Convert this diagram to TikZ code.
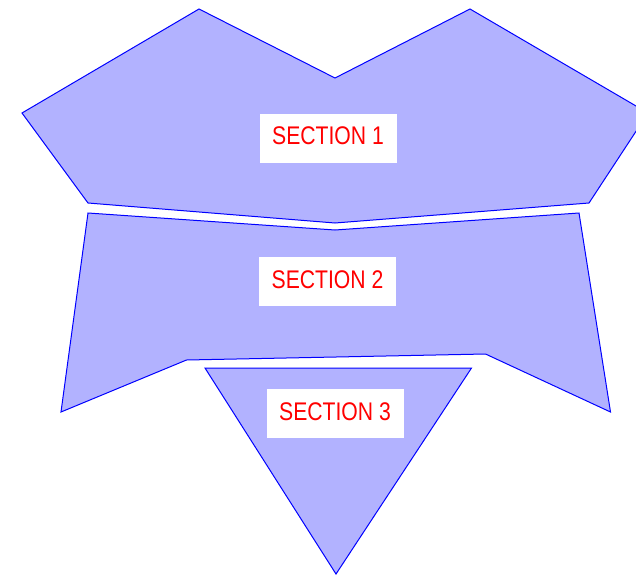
\documentclass[tikz,border=0pt]{standalone}
\usepackage{fontspec}
\setmainfont[FakeStretch=0.83]{Liberation Sans}
\begin{document}
\begin{tikzpicture}[x=1pt,y=-1pt,
  region/.style={fill=blue!30, draw=blue, line width=1pt, line join=miter},
  sectlabel/.style={fill=white, text=red, font=\fontsize{25.5}{28}\selectfont, text depth=4.5pt, minimum width=137pt, minimum height=49pt, inner sep=0pt}]
\useasboundingbox (0,0) rectangle (636,578);
\clip (0,0) rectangle (636,578);
% Section 1
\draw[region] (22,113) -- (199,9) -- (335,78) -- (470,9) -- (648,113) -- (589,203) -- (335,223) -- (88,203) -- cycle;
% Section 2
\draw[region] (88,213) -- (335,230) -- (579,213) -- (610.5,412) -- (485.5,354) -- (186.5,360) -- (61,412) -- cycle;
% Section 3
\draw[region] (205,368) -- (471.5,368) -- (336,574) -- cycle;
\node[sectlabel] (s1) at (328,138.3) {SECTION 1};
\node[sectlabel] (s2) at (327.5,281.5) {SECTION 2};
\node[sectlabel] (s3) at (335,413.5) {SECTION 3};
\end{tikzpicture}
\end{document}
